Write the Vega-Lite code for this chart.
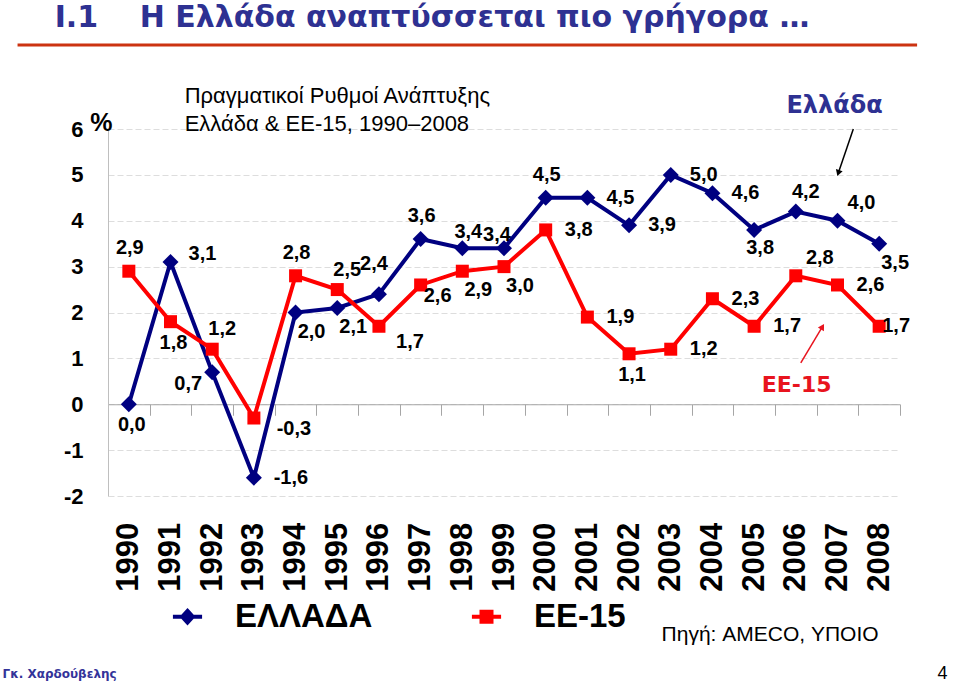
{
  "$schema": "https://vega.github.io/schema/vega-lite/v6.json",
  "autosize": {"type": "none"},
  "width": 792,
  "height": 367,
  "padding": {"left": 108, "top": 129, "right": 60, "bottom": 187},
  "background": "white",
  "config": {
    "view": {"stroke": null},
    "locale": {"number": {"decimal": ",", "thousands": ".", "grouping": [3], "currency": ["", " €"], "minus": "-"}}
  },
  "datasets": {
    "growth": [
      {"series": "ΕΛΛΑΔΑ", "year": 1990, "value": 0.0},
      {"series": "ΕΛΛΑΔΑ", "year": 1991, "value": 3.1},
      {"series": "ΕΛΛΑΔΑ", "year": 1992, "value": 0.7},
      {"series": "ΕΛΛΑΔΑ", "year": 1993, "value": -1.6},
      {"series": "ΕΛΛΑΔΑ", "year": 1994, "value": 2.0},
      {"series": "ΕΛΛΑΔΑ", "year": 1995, "value": 2.1},
      {"series": "ΕΛΛΑΔΑ", "year": 1996, "value": 2.4},
      {"series": "ΕΛΛΑΔΑ", "year": 1997, "value": 3.6},
      {"series": "ΕΛΛΑΔΑ", "year": 1998, "value": 3.4},
      {"series": "ΕΛΛΑΔΑ", "year": 1999, "value": 3.4},
      {"series": "ΕΛΛΑΔΑ", "year": 2000, "value": 4.5},
      {"series": "ΕΛΛΑΔΑ", "year": 2001, "value": 4.5},
      {"series": "ΕΛΛΑΔΑ", "year": 2002, "value": 3.9},
      {"series": "ΕΛΛΑΔΑ", "year": 2003, "value": 5.0},
      {"series": "ΕΛΛΑΔΑ", "year": 2004, "value": 4.6},
      {"series": "ΕΛΛΑΔΑ", "year": 2005, "value": 3.8},
      {"series": "ΕΛΛΑΔΑ", "year": 2006, "value": 4.2},
      {"series": "ΕΛΛΑΔΑ", "year": 2007, "value": 4.0},
      {"series": "ΕΛΛΑΔΑ", "year": 2008, "value": 3.5},
      {"series": "ΕΕ-15", "year": 1990, "value": 2.9},
      {"series": "ΕΕ-15", "year": 1991, "value": 1.8},
      {"series": "ΕΕ-15", "year": 1992, "value": 1.2},
      {"series": "ΕΕ-15", "year": 1993, "value": -0.3},
      {"series": "ΕΕ-15", "year": 1994, "value": 2.8},
      {"series": "ΕΕ-15", "year": 1995, "value": 2.5},
      {"series": "ΕΕ-15", "year": 1996, "value": 1.7},
      {"series": "ΕΕ-15", "year": 1997, "value": 2.6},
      {"series": "ΕΕ-15", "year": 1998, "value": 2.9},
      {"series": "ΕΕ-15", "year": 1999, "value": 3.0},
      {"series": "ΕΕ-15", "year": 2000, "value": 3.8},
      {"series": "ΕΕ-15", "year": 2001, "value": 1.9},
      {"series": "ΕΕ-15", "year": 2002, "value": 1.1},
      {"series": "ΕΕ-15", "year": 2003, "value": 1.2},
      {"series": "ΕΕ-15", "year": 2004, "value": 2.3},
      {"series": "ΕΕ-15", "year": 2005, "value": 1.7},
      {"series": "ΕΕ-15", "year": 2006, "value": 2.8},
      {"series": "ΕΕ-15", "year": 2007, "value": 2.6},
      {"series": "ΕΕ-15", "year": 2008, "value": 1.7}
    ],
    "notes": [
      {"kind": "title", "text": "I.1", "year": 1988.22, "value": 8.226},
      {"kind": "title", "text": "Η Ελλάδα αναπτύσσεται πιο γρήγορα …", "year": 1990.26, "value": 8.226},
      {"kind": "sub", "text": "Πραγματικοί Ρυθμοί Ανάπτυξης", "year": 1991.34, "value": 6.569},
      {"kind": "sub", "text": "Ελλάδα & ΕΕ-15, 1990–2008", "year": 1991.34, "value": 5.959},
      {"kind": "pct", "text": "%", "year": 1989.34, "value": 5.96},
      {"kind": "grnote", "text": "Ελλάδα", "year": 2006.93, "value": 6.351},
      {"kind": "eunote", "text": "ΕΕ-15", "year": 2006.02, "value": 0.267},
      {"kind": "source", "text": "Πηγή: AMECO, ΥΠΟΙΟ", "year": 2002.78, "value": -5.162},
      {"kind": "author", "text": "Γκ. Χαρδούβελης", "year": 1986.97, "value": -5.969},
      {"kind": "page", "text": "4", "year": 2009.52, "value": -5.99}
    ],
    "arrows": [
      {"name": "underline", "year": 1987.33, "value": 7.83, "year2": 2008.91, "value2": 7.83},
      {"name": "black", "year": 2007.38, "value": 6.0, "year2": 2007.02, "value2": 5.04},
      {"name": "red", "year": 2006.12, "value": 0.9, "year2": 2006.64, "value2": 1.69}
    ]
  },
  "data": {"name": "growth"},
  "encoding": {
    "x": {
      "field": "year", "type": "quantitative",
      "scale": {"domain": [1989.5, 2008.5], "nice": false, "zero": false},
      "axis": {
        "orient": "bottom", "offset": -91.75,
        "values": [1990, 1991, 1992, 1993, 1994, 1995, 1996, 1997, 1998, 1999, 2000, 2001, 2002, 2003, 2004, 2005, 2006, 2007, 2008],
        "format": "d", "tickOffset": 20.85, "labelOffset": -20.85, "tickSize": 11,
        "tickColor": "#A6A6A6", "domainColor": "#A6A6A6", "domainWidth": 1, "grid": false,
        "labelAngle": 270, "labelFont": "Liberation Sans", "labelFontWeight": "bold", "labelFontSize": 31,
        "labelColor": "black", "labelPadding": 107, "labelOverlap": false, "labelFlush": false, "labelBound": false,
        "title": null
      }
    },
    "y": {
      "field": "value", "type": "quantitative",
      "scale": {"domain": [-2, 6], "nice": false, "zero": false},
      "axis": {
        "values": [-2, -1, 0, 1, 2, 3, 4, 5, 6], "format": "d",
        "grid": true, "gridColor": "#DDDDDD", "gridDash": [6, 3],
        "domainColor": "#BFBFBF", "ticks": false,
        "labelFont": "Liberation Sans", "labelFontWeight": "bold", "labelFontSize": 22,
        "labelColor": "black", "labelPadding": 25, "title": null
      }
    }
  },
  "layer": [
    {
      "transform": [{"filter": "datum.series === 'ΕΛΛΑΔΑ'"}],
      "mark": {"type": "line", "strokeWidth": 4},
      "encoding": {
        "color": {
          "field": "series", "type": "nominal",
          "scale": {"domain": ["ΕΛΛΑΔΑ", "ΕΕ-15"], "range": ["#000080", "#FF0000"]},
          "legend": {
            "orient": "none", "legendX": 63, "legendY": 471, "direction": "horizontal",
            "title": null, "padding": 0, "labelFont": "Liberation Sans", "labelFontWeight": "bold",
            "labelFontSize": 33, "labelColor": "black", "labelOffset": 31, "symbolSize": 772,
            "columnPadding": 90, "symbolStrokeWidth": 4, "labelLimit": 0,
            "encode": {
              "symbols": {
                "update": {
                  "shape": {"signal": "datum.value === 'ΕΛΛΑΔΑ' ? 'M-1.05,0H1.05M0,-0.42L0.38,0L0,0.42L-0.38,0Z' : 'M-1.05,0H1.05M-0.36,-0.36H0.36V0.36H-0.36Z'"},
                  "fill": {"signal": "datum.value === 'ΕΛΛΑΔΑ' ? '#000080' : '#FF0000'"},
                  "stroke": {"signal": "datum.value === 'ΕΛΛΑΔΑ' ? '#000080' : '#FF0000'"},
                  "strokeWidth": {"value": 4},
                  "opacity": {"value": 1}
                }
              }
            }
          }
        }
      }
    },
    {
      "transform": [{"filter": "datum.series === 'ΕΛΛΑΔΑ'"}],
      "mark": {"type": "point", "shape": "diamond", "filled": true, "size": 256, "color": "#000080", "opacity": 1}
    },
    {
      "transform": [{"filter": "datum.series === 'ΕΕ-15'"}],
      "mark": {"type": "line", "strokeWidth": 4},
      "encoding": {
        "color": {
          "field": "series", "type": "nominal",
          "scale": {"domain": ["ΕΛΛΑΔΑ", "ΕΕ-15"], "range": ["#000080", "#FF0000"]},
          "legend": {
            "orient": "none", "legendX": 63, "legendY": 471, "direction": "horizontal",
            "title": null, "padding": 0, "labelFont": "Liberation Sans", "labelFontWeight": "bold",
            "labelFontSize": 33, "labelColor": "black", "labelOffset": 31, "symbolSize": 772,
            "columnPadding": 90, "symbolStrokeWidth": 4, "labelLimit": 0,
            "encode": {
              "symbols": {
                "update": {
                  "shape": {"signal": "datum.value === 'ΕΛΛΑΔΑ' ? 'M-1.05,0H1.05M0,-0.42L0.38,0L0,0.42L-0.38,0Z' : 'M-1.05,0H1.05M-0.36,-0.36H0.36V0.36H-0.36Z'"},
                  "fill": {"signal": "datum.value === 'ΕΛΛΑΔΑ' ? '#000080' : '#FF0000'"},
                  "stroke": {"signal": "datum.value === 'ΕΛΛΑΔΑ' ? '#000080' : '#FF0000'"},
                  "strokeWidth": {"value": 4},
                  "opacity": {"value": 1}
                }
              }
            }
          }
        }
      }
    },
    {
      "transform": [{"filter": "datum.series === 'ΕΕ-15'"}],
      "mark": {"type": "point", "shape": "square", "filled": true, "size": 169, "color": "#FF0000", "opacity": 1}
    },
    {
      "transform": [{"filter": "(datum.series === 'ΕΛΛΑΔΑ' && indexof([2001,2002,2003,2004], datum.year) >= 0) || (datum.series === 'ΕΕ-15' && indexof([2000,2001,2003,2004,2005,2007], datum.year) >= 0)"}],
      "mark": {"type": "text", "dx": 33, "dy": 0, "font": "Liberation Sans", "fontWeight": "bold", "fontSize": 20, "color": "black"},
      "encoding": {"text": {"field": "value", "type": "quantitative", "format": ".1f"}}
    },
    {
      "transform": [{"filter": "datum.series === 'ΕΛΛΑΔΑ' && datum.year === 1993"}],
      "mark": {"type": "text", "dx": 37, "dy": 0, "font": "Liberation Sans", "fontWeight": "bold", "fontSize": 20, "color": "black"},
      "encoding": {"text": {"field": "value", "type": "quantitative", "format": ".1f"}}
    },
    {
      "transform": [{"filter": "datum.series === 'ΕΛΛΑΔΑ' && datum.year === 1991"}],
      "mark": {"type": "text", "dx": 32, "dy": -8, "font": "Liberation Sans", "fontWeight": "bold", "fontSize": 20, "color": "black"},
      "encoding": {"text": {"field": "value", "type": "quantitative", "format": ".1f"}}
    },
    {
      "transform": [{"filter": "(datum.series === 'ΕΛΛΑΔΑ' && indexof([1997,2000], datum.year) >= 0) || (datum.series === 'ΕΕ-15' && indexof([1990,1994], datum.year) >= 0)"}],
      "mark": {"type": "text", "dx": 1, "dy": -23, "font": "Liberation Sans", "fontWeight": "bold", "fontSize": 20, "color": "black"},
      "encoding": {"text": {"field": "value", "type": "quantitative", "format": ".1f"}}
    },
    {
      "transform": [{"filter": "(datum.series === 'ΕΛΛΑΔΑ' && datum.year === 1990) || (datum.series === 'ΕΕ-15' && indexof([1991,2002], datum.year) >= 0)"}],
      "mark": {"type": "text", "dx": 3, "dy": 21, "font": "Liberation Sans", "fontWeight": "bold", "fontSize": 20, "color": "black"},
      "encoding": {"text": {"field": "value", "type": "quantitative", "format": ".1f"}}
    },
    {
      "transform": [{"filter": "(datum.series === 'ΕΛΛΑΔΑ' && indexof([1994,1995,2008], datum.year) >= 0) || (datum.series === 'ΕΕ-15' && indexof([1998,1999], datum.year) >= 0)"}],
      "mark": {"type": "text", "dx": 16, "dy": 19, "font": "Liberation Sans", "fontWeight": "bold", "fontSize": 20, "color": "black"},
      "encoding": {"text": {"field": "value", "type": "quantitative", "format": ".1f"}}
    },
    {
      "transform": [{"filter": "datum.series === 'ΕΛΛΑΔΑ' && datum.year === 2005"}],
      "mark": {"type": "text", "dx": 6, "dy": 18, "font": "Liberation Sans", "fontWeight": "bold", "fontSize": 20, "color": "black"},
      "encoding": {"text": {"field": "value", "type": "quantitative", "format": ".1f"}}
    },
    {
      "transform": [{"filter": "datum.series === 'ΕΕ-15' && datum.year === 1997"}],
      "mark": {"type": "text", "dx": 17, "dy": 11, "font": "Liberation Sans", "fontWeight": "bold", "fontSize": 20, "color": "black"},
      "encoding": {"text": {"field": "value", "type": "quantitative", "format": ".1f"}}
    },
    {
      "transform": [{"filter": "datum.series === 'ΕΕ-15' && datum.year === 1993"}],
      "mark": {"type": "text", "dx": 40, "dy": 11, "font": "Liberation Sans", "fontWeight": "bold", "fontSize": 20, "color": "black"},
      "encoding": {"text": {"field": "value", "type": "quantitative", "format": ".1f"}}
    },
    {
      "transform": [{"filter": "datum.series === 'ΕΕ-15' && datum.year === 1996"}],
      "mark": {"type": "text", "dx": 31, "dy": 16, "font": "Liberation Sans", "fontWeight": "bold", "fontSize": 20, "color": "black"},
      "encoding": {"text": {"field": "value", "type": "quantitative", "format": ".1f"}}
    },
    {
      "transform": [{"filter": "(datum.series === 'ΕΛΛΑΔΑ' && datum.year === 2006) || (datum.series === 'ΕΕ-15' && indexof([1992,1995], datum.year) >= 0)"}],
      "mark": {"type": "text", "dx": 10, "dy": -20, "font": "Liberation Sans", "fontWeight": "bold", "fontSize": 20, "color": "black"},
      "encoding": {"text": {"field": "value", "type": "quantitative", "format": ".1f"}}
    },
    {
      "transform": [{"filter": "datum.series === 'ΕΛΛΑΔΑ' && datum.year === 1998"}],
      "mark": {"type": "text", "dx": 6, "dy": -16, "font": "Liberation Sans", "fontWeight": "bold", "fontSize": 20, "color": "black"},
      "encoding": {"text": {"field": "value", "type": "quantitative", "format": ".1f"}}
    },
    {
      "transform": [{"filter": "(datum.series === 'ΕΛΛΑΔΑ' && datum.year === 2007) || (datum.series === 'ΕΕ-15' && datum.year === 2006)"}],
      "mark": {"type": "text", "dx": 24, "dy": -18, "font": "Liberation Sans", "fontWeight": "bold", "fontSize": 20, "color": "black"},
      "encoding": {"text": {"field": "value", "type": "quantitative", "format": ".1f"}}
    },
    {
      "transform": [{"filter": "datum.series === 'ΕΛΛΑΔΑ' && datum.year === 1992"}],
      "mark": {"type": "text", "dx": -24, "dy": 12, "font": "Liberation Sans", "fontWeight": "bold", "fontSize": 20, "color": "black"},
      "encoding": {"text": {"field": "value", "type": "quantitative", "format": ".1f"}}
    },
    {
      "transform": [{"filter": "datum.series === 'ΕΛΛΑΔΑ' && datum.year === 1996"}],
      "mark": {"type": "text", "dx": -5, "dy": -30, "font": "Liberation Sans", "fontWeight": "bold", "fontSize": 20, "color": "black"},
      "encoding": {"text": {"field": "value", "type": "quantitative", "format": ".1f"}}
    },
    {
      "transform": [{"filter": "datum.series === 'ΕΛΛΑΔΑ' && datum.year === 1999"}],
      "mark": {"type": "text", "dx": -7, "dy": -13, "font": "Liberation Sans", "fontWeight": "bold", "fontSize": 20, "color": "black"},
      "encoding": {"text": {"field": "value", "type": "quantitative", "format": ".1f"}}
    },
    {
      "transform": [{"filter": "datum.series === 'ΕΕ-15' && datum.year === 2008"}],
      "mark": {"type": "text", "dx": 17, "dy": 0, "font": "Liberation Sans", "fontWeight": "bold", "fontSize": 20, "color": "black"},
      "encoding": {"text": {"field": "value", "type": "quantitative", "format": ".1f"}}
    },
    {
      "data": {"name": "arrows"},
      "transform": [{"filter": "datum.name === 'underline'"}],
      "mark": {"type": "rule", "color": "#CC3311", "strokeWidth": 3},
      "encoding": {"x2": {"field": "year2"}, "y2": {"field": "value2"}}
    },
    {
      "data": {"name": "arrows"},
      "transform": [{"filter": "datum.name === 'black'"}],
      "mark": {"type": "rule", "strokeWidth": 1.5, "color": "#000000"},
      "encoding": {"x2": {"field": "year2"}, "y2": {"field": "value2"}}
    },
    {
      "data": {"name": "arrows"},
      "transform": [{"filter": "datum.name === 'red'"}],
      "mark": {"type": "rule", "strokeWidth": 1.5, "color": "#E8141E"},
      "encoding": {"x2": {"field": "year2"}, "y2": {"field": "value2"}}
    },
    {
      "data": {"name": "arrows"},
      "transform": [{"filter": "datum.name === 'black'"}],
      "mark": {"type": "point", "shape": "triangle-down", "filled": true, "size": 50, "angle": 19, "color": "#000000", "opacity": 1},
      "encoding": {"x": {"field": "year2", "type": "quantitative"}, "y": {"field": "value2", "type": "quantitative"}}
    },
    {
      "data": {"name": "arrows"},
      "transform": [{"filter": "datum.name === 'red'"}],
      "mark": {"type": "point", "shape": "triangle-down", "filled": true, "size": 50, "angle": 211, "color": "#E8141E", "opacity": 1},
      "encoding": {"x": {"field": "year2", "type": "quantitative"}, "y": {"field": "value2", "type": "quantitative"}}
    },
    {
      "data": {"name": "notes"},
      "transform": [{"filter": "datum.kind === 'title'"}],
      "mark": {"type": "text", "align": "left", "baseline": "alphabetic", "font": "DejaVu Sans", "fontWeight": "bold", "fontSize": 30, "color": "#2E3192"},
      "encoding": {"text": {"field": "text"}}
    },
    {
      "data": {"name": "notes"},
      "transform": [{"filter": "datum.kind === 'sub'"}],
      "mark": {"type": "text", "align": "left", "baseline": "alphabetic", "font": "Liberation Sans", "fontSize": 22, "color": "#000000"},
      "encoding": {"text": {"field": "text"}}
    },
    {
      "data": {"name": "notes"},
      "transform": [{"filter": "datum.kind === 'pct'"}],
      "mark": {"type": "text", "align": "center", "baseline": "alphabetic", "font": "Liberation Sans", "fontWeight": "bold", "fontSize": 25, "color": "#000000"},
      "encoding": {"text": {"field": "text"}}
    },
    {
      "data": {"name": "notes"},
      "transform": [{"filter": "datum.kind === 'grnote'"}],
      "mark": {"type": "text", "align": "center", "baseline": "alphabetic", "font": "DejaVu Sans", "fontWeight": "bold", "fontSize": 24, "color": "#2E3192"},
      "encoding": {"text": {"field": "text"}}
    },
    {
      "data": {"name": "notes"},
      "transform": [{"filter": "datum.kind === 'eunote'"}],
      "mark": {"type": "text", "align": "center", "baseline": "alphabetic", "font": "DejaVu Sans", "fontWeight": "bold", "fontSize": 22, "color": "#E8141E"},
      "encoding": {"text": {"field": "text"}}
    },
    {
      "data": {"name": "notes"},
      "transform": [{"filter": "datum.kind === 'source'"}],
      "mark": {"type": "text", "align": "left", "baseline": "alphabetic", "font": "Liberation Sans", "fontSize": 21, "color": "#000000"},
      "encoding": {"text": {"field": "text"}}
    },
    {
      "data": {"name": "notes"},
      "transform": [{"filter": "datum.kind === 'author'"}],
      "mark": {"type": "text", "align": "left", "baseline": "alphabetic", "font": "DejaVu Sans", "fontWeight": "bold", "fontSize": 12, "color": "#333399"},
      "encoding": {"text": {"field": "text"}}
    },
    {
      "data": {"name": "notes"},
      "transform": [{"filter": "datum.kind === 'page'"}],
      "mark": {"type": "text", "align": "center", "baseline": "alphabetic", "font": "Liberation Sans", "fontSize": 18, "color": "#000000"},
      "encoding": {"text": {"field": "text"}}
    }
  ]
}
